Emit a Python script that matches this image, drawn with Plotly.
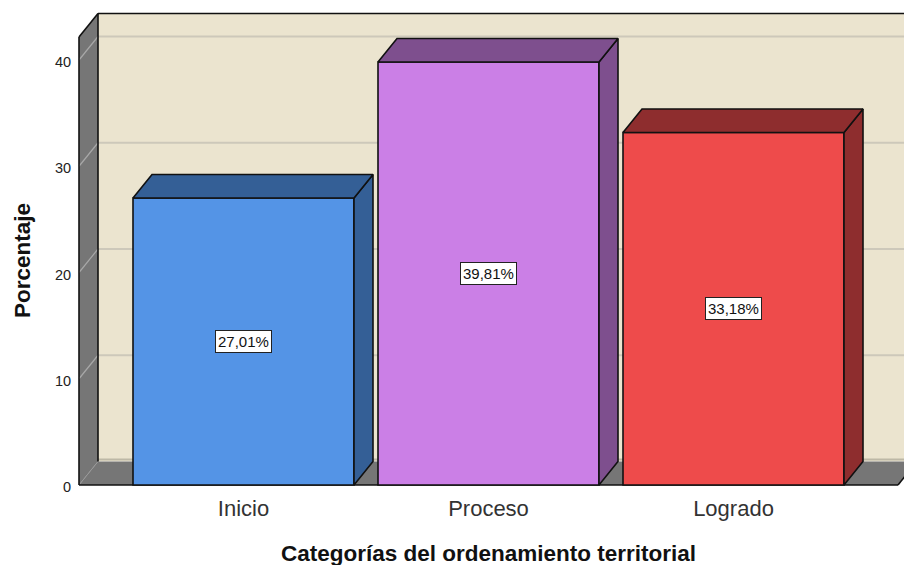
import plotly.graph_objects as go

categories = ["Inicio", "Proceso", "Logrado"]
percentages = [27.01, 39.81, 33.18]
labels = ["27,01%", "39,81%", "33,18%"]
front_colors = ["#5494E6", "#CB7FE6", "#EE4B4B"]
side_colors = ["#345F96", "#7E4F8E", "#8E2D2E"]
y_ticks = [0, 10, 20, 30, 40]

WIDTH, HEIGHT = 904, 565
ML, MR, MT, MB = 76, 0, 10, 77
PX_X = 245.0      # pixels per category
PX_Y = 10.625     # pixels per percent
X0_PX = 243.5     # pixel of first category centre
Y0_PX = 485.0     # pixel of value 0
DX = 19.0 / PX_X  # depth offset in data units
DY = 23.5 / PX_Y
BAR_W = 221.0 / PX_X
x_range = [(ML - X0_PX) / PX_X, (WIDTH - MR - X0_PX) / PX_X]
y_range = [(Y0_PX - (HEIGHT - MB)) / PX_Y, (Y0_PX - MT) / PX_Y]
WALL_L = (79 - X0_PX) / PX_X
FLOOR_R = (898 - X0_PX) / PX_X
WALL_TOP = (Y0_PX - 37) / PX_Y
EDGE = "#111111"
GRAY = "#767676"
BEIGE = "#EBE4CF"
GRID = "#CDC8BA"


def path(points):
    return "M " + " L ".join(f"{x},{y}" for x, y in points) + " Z"


shapes = []


def poly(points, fill):
    shapes.append(dict(type="path", path=path(points), xref="x", yref="y", layer="below",
                       fillcolor=fill, line=dict(width=0)))


def seg(x0, y0, x1, y1, color, width):
    shapes.append(dict(type="line", x0=x0, y0=y0, x1=x1, y1=y1, xref="x", yref="y",
                       layer="below", line=dict(color=color, width=width)))


right_far = FLOOR_R + DX
back_l = WALL_L + DX
top_back = WALL_TOP + DY
# back wall, floor and left wall
poly([(back_l, DY), (right_far, DY), (right_far, top_back), (back_l, top_back)], BEIGE)
poly([(WALL_L, 0), (FLOOR_R, 0), (right_far, DY), (back_l, DY)], GRAY)
poly([(WALL_L, 0), (back_l, DY), (back_l, top_back), (WALL_L, WALL_TOP)], GRAY)
# band at the foot of the back wall
seg(back_l, DY + 0.2, right_far, DY + 0.2, "#BDB8A6", 2)
# gridlines
for t in y_ticks[1:]:
    seg(back_l, t + DY, right_far, t + DY, GRID, 2)
    seg(WALL_L, t, back_l, t + DY, "#A8A8A8", 1.2)
seg(WALL_L, 0, back_l, DY, "#999999", 1)
# frame edges
seg(WALL_L, 0, FLOOR_R, 0, EDGE, 1.6)
seg(FLOOR_R, 0, right_far, DY, EDGE, 1.6)
seg(WALL_L, 0, WALL_L, WALL_TOP, EDGE, 1.6)
seg(WALL_L, WALL_TOP, back_l, top_back, EDGE, 1.6)
seg(back_l, top_back, right_far, top_back, EDGE, 1.6)
seg(back_l, DY, back_l, top_back, EDGE, 1.6)

xs = list(range(len(categories)))
fig = go.Figure()
fig.add_trace(go.Bar(x=xs, y=percentages, width=BAR_W,
                     marker=dict(color=front_colors, line=dict(color=EDGE, width=1.6)),
                     hoverinfo="skip", showlegend=False))

for x, v, c in zip(xs, percentages, side_colors):
    l, r = x - BAR_W / 2, x + BAR_W / 2
    fig.add_trace(go.Scatter(x=[r, r + DX, r + DX, r, r], y=[0, DY, v + DY, v, 0], mode="lines",
                             fill="toself", fillcolor=c, line=dict(color=EDGE, width=1.6),
                             hoverinfo="skip", showlegend=False))
    fig.add_trace(go.Scatter(x=[l, r, r + DX, l + DX, l], y=[v, v, v + DY, v + DY, v], mode="lines",
                             fill="toself", fillcolor=c, line=dict(color=EDGE, width=1.6),
                             hoverinfo="skip", showlegend=False))

annotations = [
    dict(x=x, y=v / 2, text=t, showarrow=False, xref="x", yref="y",
         font=dict(family="Liberation Sans", size=15, color="#111111"),
         bgcolor="white", bordercolor="#222222", borderwidth=1, borderpad=2)
    for x, v, t in zip(xs, percentages, labels)
]
annotations.append(dict(text="<b>Categorías del ordenamiento territorial</b>", showarrow=False,
                        xref="paper", yref="paper", x=(488 - ML) / (WIDTH - ML - MR),
                        y=-(553 - (HEIGHT - MB)) / (HEIGHT - MT - MB), yanchor="middle",
                        font=dict(family="Liberation Sans", size=22.5, color="#111111")))
annotations.append(dict(text="<b>Porcentaje</b>", showarrow=False, textangle=-90,
                        xref="paper", yref="paper", x=-(ML - 22) / (WIDTH - ML - MR),
                        y=((HEIGHT - MB) - 261) / (HEIGHT - MT - MB), xanchor="center", yanchor="middle",
                        font=dict(family="Liberation Sans", size=22.5, color="#111111")))

fig.update_layout(
    width=WIDTH, height=HEIGHT,
    margin=dict(l=ML, r=MR, t=MT, b=MB, pad=0),
    paper_bgcolor="white", plot_bgcolor="white",
    shapes=shapes, annotations=annotations, showlegend=False,
    xaxis=dict(range=x_range, tickvals=xs, ticktext=categories, showgrid=False, zeroline=False,
               showline=False, ticks="outside", ticklen=1, tickcolor="rgba(0,0,0,0)",
               tickfont=dict(family="Liberation Sans", size=22, color="#333333")),
    yaxis=dict(range=y_range, tickvals=y_ticks, showgrid=False, zeroline=False, showline=False,
               ticks="outside", ticklen=1, tickcolor="rgba(0,0,0,0)", ticklabelshift=2,
               tickfont=dict(family="Liberation Sans", size=14.5, color="#222222")),
)
fig.write_html("out.html", config=dict(displayModeBar=False),
               post_script="document.body.style.margin='0';document.documentElement.style.overflow='hidden';")
